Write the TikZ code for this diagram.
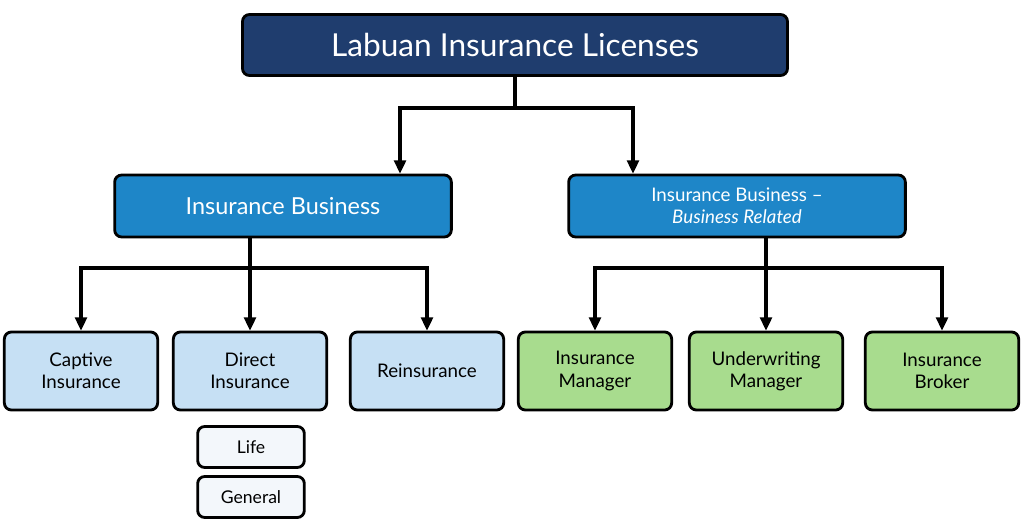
\documentclass[tikz,border=0pt]{standalone}
\usepackage{fontspec}
\setmainfont{Lato}
\usetikzlibrary{positioning, arrows.meta}
\definecolor{navy}{HTML}{1F3D6E}
\definecolor{midblue}{HTML}{1E86C8}
\definecolor{paleblue}{HTML}{C6E0F4}
\definecolor{palegreen}{HTML}{A8DC8E}
\definecolor{offwhite}{HTML}{F3F7FB}
\begin{document}
\begin{tikzpicture}[x=0.03cm, y=-0.03cm,
    box/.style={rectangle, draw=black, line width=2.4pt, rounded corners=6pt, align=center},
    topbox/.style={box, fill=navy, text=white, minimum width=16.35cm, minimum height=1.83cm, font=\fontsize{27}{30}\selectfont},
    midbox/.style={box, fill=midblue, text=white, minimum width=10.1cm, minimum height=1.86cm},
    leafbox/.style={box, minimum width=4.6cm, minimum height=2.34cm, font=\fontsize{16}{19}\selectfont},
    subbox/.style={box, fill=offwhite, minimum width=3.2cm, minimum height=1.23cm, font=\fontsize{15}{17}\selectfont},
    arrow/.style={-{Triangle[length=4mm, width=3.6mm]}, line width=2.6pt}
]
    \useasboundingbox (0,0) rectangle (1024,528);

    % Top level
    \node[topbox] (top) at (515,45) {Labuan Insurance Licenses};

    % Second level
    \node[midbox, font=\fontsize{20}{24}\selectfont] (ib) at (283,206) {Insurance Business};
    \node[midbox, font=\fontsize{16}{19}\selectfont] (ibr) at (737,206) {Insurance Business --\\\textit{Business Related}};

    % Leaves
    \node[leafbox, fill=paleblue] (cap) at (81,371) {Captive\\Insurance};
    \node[leafbox, fill=paleblue] (dir) at (250,371) {Direct\\Insurance};
    \node[leafbox, fill=paleblue] (rei) at (427,371) {Reinsurance};
    \node[leafbox, fill=palegreen] (man) at (595,371) {Insurance\\Manager};
    \node[leafbox, fill=palegreen] (und) at (766,371) {Underwriting\\Manager};
    \node[leafbox, fill=palegreen] (bro) at (942,371) {Insurance\\Broker};

    % Sub-types
    \node[subbox] (life) at (251,447) {Life};
    \node[subbox] (gen) at (251,497) {General};

    % Connectors
    \coordinate (j1) at (515,108);
    \coordinate (j2) at (250,268);
    \coordinate (j3) at (766,268);
    \draw[line width=2.6pt] (top.south) -- (j1);
    \draw[arrow] (j1) -| ([xshift=3.51cm]ib.north);
    \draw[arrow] (j1) -| ([xshift=-3.12cm]ibr.north);
    \draw[line width=2.6pt] (ib.south -| j2) -- (j2);
    \draw[arrow] (j2) -| (cap.north);
    \draw[arrow] (j2) -- (dir.north);
    \draw[arrow] (j2) -| (rei.north);
    \draw[line width=2.6pt] (ibr.south -| j3) -- (j3);
    \draw[arrow] (j3) -| (man.north);
    \draw[arrow] (j3) -- (und.north);
    \draw[arrow] (j3) -| (bro.north);
\end{tikzpicture}
\end{document}
